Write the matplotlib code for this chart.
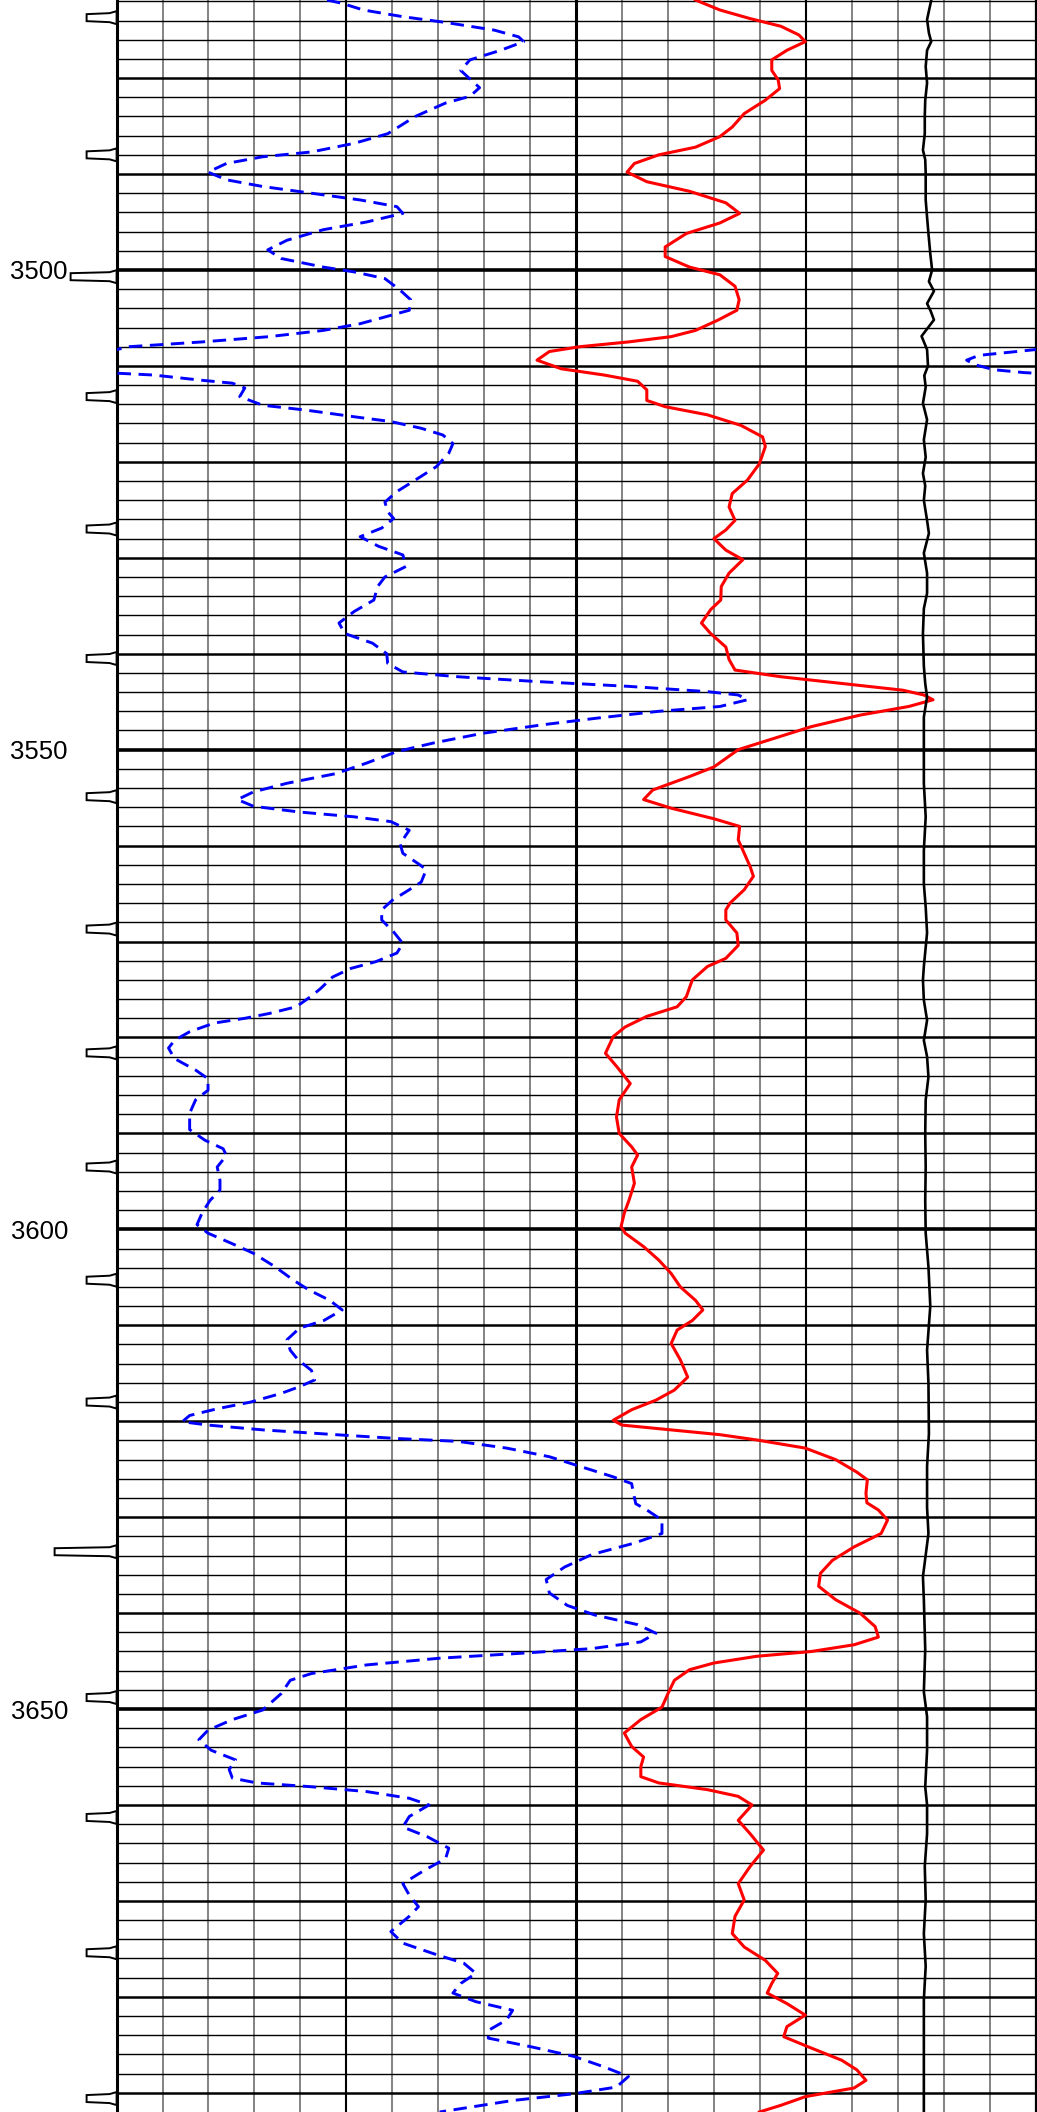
import matplotlib
matplotlib.use('Agg')
import matplotlib.pyplot as plt
import numpy as np

# depth (m) and curve readings, x in track divisions (0-20)
blue_depth = [3471.86, 3472.2, 3472.9, 3473.6, 3474.2, 3475.0, 3475.7, 3476.2, 3477.1, 3478.1, 3479.2, 3480.0,
              3481.0, 3481.9, 3482.6, 3484.0, 3485.8, 3486.8, 3487.7, 3488.2, 3488.9, 3489.8, 3490.6, 3491.3,
              3492.0, 3492.7, 3493.4, 3494.1, 3495.0, 3495.8, 3496.9, 3497.9, 3498.8, 3499.7, 3500.2, 3500.9,
              3502.1, 3503.1, 3504.2, 3504.9, 3505.6, 3506.3, 3506.95, 3507.5, 3508.0, 3508.3, 3508.9, 3509.4,
              3509.9, 3510.4, 3510.7, 3510.95, 3511.5, 3511.8, 3512.3, 3513.2, 3514.1, 3514.6, 3515.3, 3515.8,
              3516.5, 3517.2, 3518.1, 3519.1, 3520.5, 3521.9, 3523.1, 3524.2, 3525.2, 3525.9, 3526.9, 3527.8,
              3528.8, 3529.7, 3530.9, 3532.0, 3533.0, 3534.4, 3535.6, 3536.8, 3537.9, 3538.9, 3540.0, 3541.0,
              3541.9, 3542.4, 3542.9, 3543.4, 3543.95, 3544.3, 3544.8, 3545.5, 3546.0, 3546.7, 3547.4, 3548.3,
              3549.3, 3550.2, 3551.4, 3552.5, 3553.5, 3554.4, 3555.2, 3555.9, 3556.5, 3557.0, 3557.5, 3558.4,
              3559.8, 3560.8, 3561.9, 3562.5, 3563.8, 3564.6, 3565.7, 3566.7, 3567.75, 3569.0, 3570.2, 3571.2,
              3572.1, 3572.8, 3573.7, 3574.9, 3575.75, 3576.8, 3577.5, 3578.0, 3578.5, 3579.4, 3580.3, 3581.1,
              3582.2, 3583.4, 3584.3, 3585.5, 3586.5, 3587.9, 3589.6, 3590.7, 3591.6, 3592.3, 3593.5, 3594.9,
              3595.9, 3597.0, 3598.3, 3599.5, 3600.4, 3601.5, 3602.5, 3603.9, 3605.3, 3606.3, 3607.4, 3608.4,
              3609.5, 3610.3, 3611.5, 3612.6, 3613.6, 3614.7, 3615.7, 3616.4, 3617.1, 3618.0, 3618.7, 3619.4,
              3620.05, 3620.4, 3620.9, 3621.4, 3621.8, 3622.1, 3622.8, 3623.7, 3624.7, 3625.8, 3626.5, 3627.5,
              3628.6, 3629.25, 3630.3, 3631.7, 3632.7, 3633.9, 3635.2, 3636.5, 3637.9, 3639.2, 3640.2, 3641.2,
              3642.1, 3643.0, 3643.7, 3644.2, 3644.7, 3645.4, 3646.3, 3647.0, 3648.4, 3650.1, 3651.1, 3652.2,
              3653.2, 3654.3, 3655.3, 3656.3, 3657.2, 3657.7, 3658.1, 3658.6, 3659.3, 3660.0, 3661.2, 3662.3,
              3663.3, 3664.5, 3665.6, 3666.8, 3668.2, 3669.4, 3670.6, 3671.6, 3673.2, 3674.4, 3675.5, 3676.5,
              3677.55, 3678.6, 3679.6, 3680.5, 3681.4, 3682.4, 3683.5, 3684.3, 3685.2, 3686.2, 3687.3, 3688.3,
              3689.4, 3690.1, 3690.8, 3692.0]
blue_val = [4.58, 4.9, 5.37, 6.23, 7.16, 8.22, 8.75, 8.86, 8.36, 7.69, 7.49, 7.67,
            7.9, 7.69, 7.16, 6.5, 5.9, 5.17, 4.24, 3.18, 2.39, 1.99, 2.39, 3.18,
            4.24, 5.3, 6.1, 6.23, 5.44, 4.5, 3.71, 3.29, 3.58, 4.5, 5.17, 5.84,
            6.17, 6.4, 6.37, 5.84, 5.3, 4.5, 3.32, 1.86, 0.27, 0.0, -1.23, -1.5,
            -1.3, -0.9, -0.24, 0.8, 1.86, 2.52, 2.79, 2.68, 3.18, 4.11, 5.17, 5.97,
            6.63, 7.1, 7.32, 7.23, 6.96, 6.5, 6.1, 5.84, 5.9, 6.03, 5.77, 5.3,
            5.7, 6.23, 6.3, 5.84, 5.68, 5.6, 5.17, 4.84, 4.97, 5.57, 5.88, 5.9,
            6.23, 7.43, 9.15, 11.14, 12.86, 13.53, 13.73, 13.13, 11.8, 10.48, 9.28, 7.96,
            6.9, 6.1, 5.44, 4.77, 3.71, 2.98, 2.63, 2.98, 3.98, 5.17, 5.97, 6.37,
            6.17, 6.23, 6.57, 6.74, 6.63, 6.37, 6.0, 5.77, 5.77, 6.03, 6.23, 6.1,
            5.64, 5.1, 4.7, 4.44, 4.22, 3.91, 3.32, 2.79, 2.12, 1.59, 1.26, 1.13,
            1.26, 1.72, 1.99, 1.99, 1.72, 1.59, 1.59, 1.92, 2.32, 2.39, 2.19, 2.25,
            2.25, 2.03, 1.86, 1.75, 1.99, 2.52, 2.98, 3.45, 3.85, 4.18, 4.64, 4.91,
            4.51, 3.98, 3.71, 3.78, 3.95, 4.24, 4.31, 3.98, 3.58, 2.92, 2.19, 1.59,
            1.43, 1.99, 3.18, 4.77, 6.1, 7.43, 8.49, 9.42, 10.08, 10.81, 11.21, 11.25,
            11.3, 11.54, 11.87, 11.87, 11.27, 10.34, 9.75, 9.35, 9.42, 9.81, 10.41, 11.34,
            11.74, 11.41, 10.34, 8.75, 7.03, 5.44, 4.24, 3.78, 3.58, 3.18, 2.52, 1.99,
            1.79, 2.06, 2.59, 2.45, 2.52, 3.05, 4.24, 5.44, 6.37, 6.8, 6.37, 6.23,
            6.76, 7.23, 7.16, 6.7, 6.23, 6.37, 6.57, 6.37, 5.97, 6.23, 6.9, 7.56,
            7.82, 7.49, 7.32, 7.82, 8.62, 8.49, 8.09, 8.09, 9.02, 9.95, 10.61, 11.14,
            10.88, 9.95, 8.62, 7.03]

red_depth = [3471.86, 3472.9, 3473.8, 3474.6, 3475.5, 3476.2, 3477.1, 3478.1, 3479.2, 3480.2, 3481.1, 3482.3,
             3483.7, 3485.1, 3486.1, 3487.2, 3488.0, 3488.9, 3489.8, 3490.8, 3491.8, 3493.0, 3494.1, 3495.1,
             3496.2, 3497.6, 3498.6, 3499.7, 3500.5, 3501.7, 3503.1, 3504.2, 3505.2, 3506.3, 3506.95, 3507.5,
             3508.0, 3508.5, 3509.4, 3510.3, 3510.95, 3511.6, 3512.5, 3513.6, 3514.25, 3515.1, 3516.2, 3517.4,
             3518.4, 3520.2, 3521.9, 3523.3, 3524.7, 3526.1, 3527.1, 3528.0, 3529.2, 3530.2, 3531.6, 3533.0,
             3534.4, 3535.4, 3536.8, 3537.9, 3539.3, 3540.6, 3541.7, 3542.4, 3543.1, 3543.8, 3544.3, 3544.8,
             3545.5, 3546.4, 3547.6, 3549.0, 3550.0, 3551.8, 3552.8, 3554.2, 3555.2, 3556.1, 3557.2, 3558.0,
             3559.4, 3560.8, 3562.2, 3563.2, 3564.6, 3566.0, 3566.7, 3567.75, 3569.1, 3570.4, 3571.75, 3572.6,
             3574.0, 3575.75, 3576.8, 3577.8, 3578.9, 3579.9, 3581.65, 3583.0, 3584.8, 3586.5, 3588.3, 3590.0,
             3591.4, 3592.25, 3593.5, 3595.2, 3597.0, 3598.3, 3599.7, 3600.4, 3601.8, 3603.2, 3604.6, 3606.0,
             3607.4, 3608.4, 3609.5, 3610.5, 3611.9, 3613.6, 3615.4, 3616.75, 3617.8, 3618.8, 3619.9, 3620.4,
             3620.9, 3621.4, 3621.95, 3622.8, 3624.0, 3625.3, 3626.1, 3627.5, 3628.5, 3629.25, 3630.3, 3631.7,
             3633.1, 3634.5, 3635.85, 3637.2, 3638.6, 3640.0, 3641.4, 3642.5, 3643.3, 3644.0, 3644.5, 3645.2,
             3645.9, 3647.0, 3648.4, 3649.8, 3651.1, 3652.5, 3653.9, 3655.0, 3656.0, 3657.05, 3657.7, 3658.4,
             3659.1, 3660.0, 3661.6, 3663.0, 3664.7, 3666.4, 3668.2, 3669.9, 3671.6, 3673.4, 3674.8, 3676.2,
             3677.55, 3678.6, 3679.6, 3680.7, 3681.9, 3683.1, 3684.15, 3685.2, 3686.6, 3687.6, 3688.7, 3689.5,
             3690.4, 3691.3, 3692.0]
red_val = [12.6, 13.13, 13.79, 14.46, 14.85, 14.99, 14.59, 14.26, 14.26, 14.4, 14.43, 14.12,
           13.66, 13.4, 13.13, 12.6, 11.8, 11.27, 11.11, 11.54, 12.47, 13.26, 13.56, 13.13,
           12.4, 11.94, 11.94, 12.47, 13.13, 13.46, 13.55, 13.5, 13.1, 12.6, 12.07, 11.14,
           10.08, 9.42, 9.15, 9.68, 10.61, 11.34, 11.54, 11.54, 11.94, 12.86, 13.59, 14.06,
           14.12, 13.99, 13.73, 13.4, 13.33, 13.46, 13.26, 13.0, 13.26, 13.63, 13.33, 13.16,
           13.15, 12.93, 12.73, 12.93, 13.26, 13.33, 13.46, 14.46, 15.78, 17.11, 17.57, 17.77,
           17.24, 16.18, 15.12, 14.19, 13.53, 13.0, 12.47, 11.67, 11.47, 12.07, 13.0, 13.56,
           13.53, 13.66, 13.79, 13.86, 13.66, 13.35, 13.26, 13.26, 13.5, 13.53, 13.26, 12.86,
           12.53, 12.4, 12.2, 11.54, 11.07, 10.81, 10.64, 10.88, 11.18, 10.94, 10.88, 10.94,
           11.21, 11.34, 11.21, 11.27, 11.15, 11.05, 10.98, 11.07, 11.47, 11.8, 12.07, 12.27,
           12.6, 12.76, 12.53, 12.2, 12.07, 12.27, 12.43, 12.14, 11.74, 11.21, 10.81, 11.0,
           12.07, 13.13, 13.93, 14.99, 15.65, 16.11, 16.34, 16.31, 16.33, 16.58, 16.78, 16.64,
           16.05, 15.58, 15.32, 15.28, 15.65, 16.18, 16.51, 16.58, 16.05, 15.12, 13.93, 13.0,
           12.47, 12.14, 12.0, 11.87, 11.41, 11.05, 11.21, 11.47, 11.41, 11.41, 11.8, 12.86,
           13.53, 13.83, 13.53, 13.79, 14.08, 13.79, 13.53, 13.66, 13.46, 13.4, 13.66, 14.12,
           14.39, 14.26, 14.16, 14.59, 14.99, 14.59, 14.52, 15.05, 15.78, 16.11, 16.31, 16.05,
           14.99, 14.46, 13.99]

black_depth = [3471.9, 3473.0, 3473.9, 3475.3, 3476.2, 3477.1, 3478.8, 3480.5, 3482.3, 3484.0, 3485.8, 3487.5,
               3488.5, 3489.9, 3492.7, 3494.5, 3496.2, 3498.3, 3500.0, 3501.2, 3502.2, 3503.5, 3504.3, 3505.2,
               3506.9, 3508.3, 3510.0, 3511.0, 3512.2, 3513.9, 3515.6, 3517.7, 3519.5, 3521.2, 3522.5, 3524.0,
               3526.1, 3527.45, 3529.5, 3531.6, 3533.7, 3535.3, 3537.9, 3541.3, 3543.1, 3544.5, 3546.6, 3550.0,
               3553.5, 3557.0, 3560.5, 3564.0, 3566.4, 3569.1, 3572.6, 3574.0, 3576.1, 3578.2, 3580.3, 3582.0,
               3584.1, 3586.5, 3590.0, 3593.5, 3597.0, 3600.4, 3603.9, 3608.0, 3612.6, 3616.0, 3621.3, 3624.7,
               3629.0, 3631.7, 3636.2, 3638.6, 3643.8, 3648.2, 3650.8, 3654.3, 3658.1, 3660.0, 3663.0, 3666.4,
               3669.9, 3673.4, 3676.8, 3680.3, 3683.8, 3687.3, 3692.0]
black_val = [17.73, 17.68, 17.64, 17.68, 17.73, 17.64, 17.61, 17.64, 17.6, 17.59, 17.59, 17.55,
             17.6, 17.61, 17.61, 17.64, 17.67, 17.71, 17.75, 17.68, 17.79, 17.64, 17.72, 17.79,
             17.52, 17.64, 17.66, 17.58, 17.61, 17.55, 17.64, 17.57, 17.61, 17.55, 17.6, 17.57,
             17.64, 17.68, 17.57, 17.64, 17.64, 17.57, 17.55, 17.57, 17.6, 17.64, 17.57, 17.57,
             17.57, 17.61, 17.57, 17.57, 17.61, 17.64, 17.57, 17.55, 17.57, 17.64, 17.57, 17.64,
             17.67, 17.61, 17.6, 17.61, 17.6, 17.61, 17.67, 17.71, 17.64, 17.67, 17.68, 17.64,
             17.64, 17.67, 17.55, 17.57, 17.6, 17.57, 17.64, 17.64, 17.6, 17.64, 17.64, 17.59,
             17.61, 17.57, 17.61, 17.57, 17.57, 17.57, 17.57]

# depth marks on the left edge
mark_depths = [3473.7, 3488.0, 3500.7, 3513.2, 3527.0, 3540.5, 3554.9, 3568.7, 3581.6, 3593.5,
               3605.3, 3618.0, 3633.6, 3648.8, 3661.3, 3675.4, 3690.6]
long_marks = {3500.7: 46, 3633.6: 62}

depth_labels = [3500, 3550, 3600, 3650]

top, bottom = 3471.86, 3692.0
W, H = 1037, 2112
ax_left, ax_w = 116.6, 918.9

fig = plt.figure(figsize=(W / 100, H / 100), dpi=100)
ax = fig.add_axes([ax_left / W, 0, ax_w / W, 1])
ax.set_xlim(0, 20)
ax.set_ylim(bottom, top)

# grid
for k in range(1, 20):
    if k == 10:
        ax.axvline(k, color='black', lw=2.2, zorder=1)
    elif k % 5 == 0:
        ax.axvline(k, color='black', lw=1.5, zorder=1)
    else:
        ax.axvline(k, color='#7a7a7a', lw=1.3, zorder=1)
for d in np.arange(3472, 3692, 2):
    if d % 50 == 0:
        lw = 2.6
    elif d % 10 == 0:
        lw = 1.8
    else:
        lw = 1.0
    ax.axhline(d, color='black', lw=lw, zorder=1)

# curves (blue also drawn shifted one track width for the wrap-around)
blue_val = np.array(blue_val)
dash = (0, (4.6, 2.6))
ax.plot(blue_val, blue_depth, color='#0000ff', lw=2.1, ls=dash, zorder=3, solid_joinstyle='round')
ax.plot(blue_val + 20, blue_depth, color='#0000ff', lw=2.1, ls=dash, zorder=3)
ax.plot(red_val, red_depth, color='#ff0000', lw=2.2, zorder=3, solid_joinstyle='round')
ax.plot(black_val, black_depth, color='black', lw=1.9, zorder=3, solid_joinstyle='round')

# spines
for s in ['top', 'bottom']:
    ax.spines[s].set_visible(False)
ax.spines['left'].set_linewidth(2.2)
ax.spines['right'].set_linewidth(1.6)

ax.set_xticks([])
ax.set_yticks(depth_labels)
ax.set_yticklabels([str(d) for d in depth_labels], fontsize=18.5, family=['Liberation Sans', 'DejaVu Sans'])
ax.tick_params(axis='y', length=0, pad=35.0)

# marker flags
px_per_depth = H / (bottom - top)
tr = ax.get_yaxis_transform()
for md in mark_depths:
    L = long_marks.get(md, 30)
    xs = np.array([0, -7, -L, -L, -7, 0]) / ax_w
    ys = md + np.array([-6.5, -4.5, -3.5, 3.5, 4.5, 6.5]) / px_per_depth
    ax.fill(xs, ys, facecolor='white', edgecolor='black', lw=1.4, transform=tr, clip_on=False, zorder=4)

fig.savefig('out.png', dpi=100)
